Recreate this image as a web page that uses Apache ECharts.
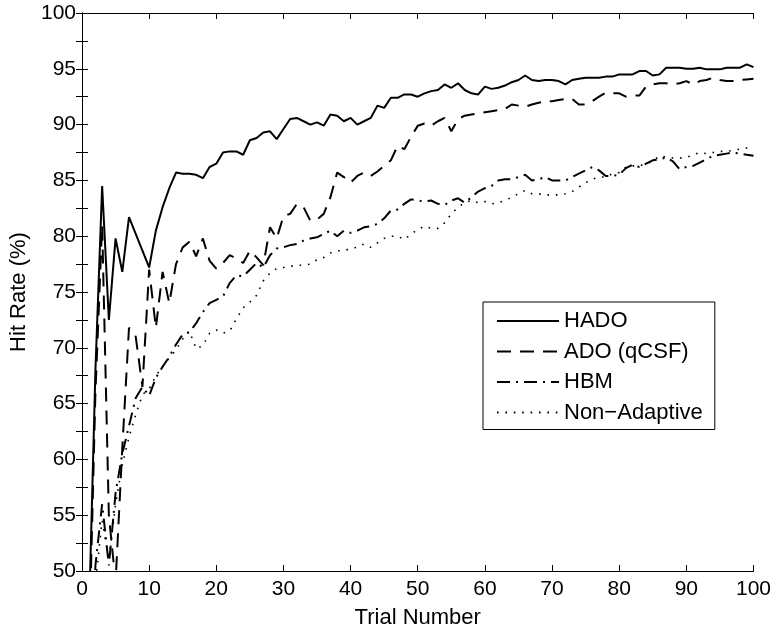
<!DOCTYPE html>
<html>
<head>
<meta charset="utf-8">
<script src="https://cdn.jsdelivr.net/npm/echarts@6/dist/echarts.min.js"></script>
<style>
html,body{margin:0;padding:0;background:#fff;}
#chart{width:774px;height:634px;}
</style>
</head>
<body>
<div id="chart"></div>
<script>
const seriesNames = ['HADO', 'ADO (qCSF)', 'HBM', 'Non\u2212Adaptive'];
const xTicks = [0, 10, 20, 30, 40, 50, 60, 70, 80, 90, 100];
const yTicks = [50, 55, 60, 65, 70, 75, 80, 85, 90, 95, 100];

const hado = [45, 68, 84.5, 72.5, 79.8, 76.8, 81.7, 80.2, 78.7, 77.2,
  80.5, 82.6, 84.3, 85.7, 85.6, 85.6, 85.5, 85.2, 86.2, 86.5,
  87.5, 87.6, 87.6, 87.3, 88.6, 88.8, 89.3, 89.4, 88.7, 89.6,
  90.5, 90.6, 90.3, 90.0, 90.2, 89.9, 90.9, 90.8, 90.3, 90.6,
  90.0, 90.3, 90.6, 91.7, 91.5, 92.4, 92.4, 92.7, 92.7, 92.5,
  92.8, 93.0, 93.1, 93.6, 93.3, 93.7, 93.1, 92.8, 92.7, 93.4,
  93.2, 93.3, 93.5, 93.8, 94.0, 94.4, 94.0, 93.9, 94.0, 94.0,
  93.9, 93.6, 94.0, 94.1, 94.2, 94.2, 94.2, 94.3, 94.3, 94.5,
  94.5, 94.5, 94.8, 94.8, 94.4, 94.5, 95.1, 95.1, 95.1, 95.0,
  95.0, 95.1, 94.95, 94.95, 94.95, 95.1, 95.1, 95.1, 95.4, 95.15];

const ado = [42, 66, 81, 55, 49, 61, 71.8, 71, 66.5, 77,
  71.8, 76.8, 74, 77.5, 79, 79.5, 78.2, 79.8, 77.8, 77.1,
  77.6, 78.3, 78, 77.6, 78.7, 78.1, 77.4, 80.8, 79.8, 81.8,
  82, 82.9, 82.6, 81.4, 81.5, 82, 83.5, 85.7, 85.3, 84.8,
  85.4, 85.7, 85.4, 85.8, 86.3, 86.8, 88.1, 87.8, 88.9, 89.9,
  90.1, 89.9, 90.3, 90.6, 89.4, 90.5, 90.8, 90.9, 91.0, 91.1,
  91.2, 91.3, 91.4, 91.8, 91.7, 91.6, 91.8, 91.95, 92.1, 92.1,
  92.2, 92.3, 92.3, 91.8, 91.8, 92.1, 92.5, 92.85, 92.8, 92.8,
  92.5, 92.6, 92.6, 93.4, 93.6, 93.7, 93.7, 93.6, 93.7, 93.9,
  93.6, 93.9, 94.0, 94.2, 94.0, 93.9, 93.9, 94.0, 94.05, 94.1];

const hbm = [38, 50.5, 56, 50.5, 57, 60.5, 63, 65.5, 66.5, 65.7,
  67.3, 68.3, 69.2, 70.3, 71.2, 71.4, 72.2, 73.2, 74.0, 74.3,
  74.6, 75.8, 76.5, 76.4, 77.0, 77.6, 77.2, 78.3, 78.9, 79.0,
  79.2, 79.3, 79.6, 79.8, 79.9, 80.2, 80.5, 80.0, 80.5, 80.3,
  80.5, 80.8, 80.9, 81.1, 81.6, 82.3, 82.4, 82.9, 83.3, 83.2,
  83.1, 83.2, 82.9, 82.8, 83.2, 83.4, 83.0, 83.5, 84.0, 84.3,
  84.5, 85.0, 85.1, 85.1, 85.3, 85.5, 85.0, 85.1, 85.3, 85.0,
  85.0, 85.0, 85.3, 85.6, 85.9, 86.2, 85.9, 85.4, 85.4, 85.5,
  86.1, 86.4, 86.2, 86.5, 86.8, 86.9, 87.05, 86.7, 86.0, 86.2,
  86.3, 86.6, 86.9, 87.2, 87.3, 87.4, 87.5, 87.4, 87.3, 87.2];

const nonAdaptive = [38, 49, 54.5, 51, 56, 59.5, 62, 64, 65.8, 66.3,
  67.5, 68.3, 69.1, 69.8, 70.8, 71.5, 69.9, 70.2, 71.3, 71.6,
  71.3, 71.5, 72.6, 73.6, 74.1, 74.7, 76.0, 76.7, 77.1, 77.2,
  77.3, 77.4, 77.4, 77.5, 77.9, 78.1, 78.5, 78.7, 78.7, 78.9,
  79.0, 79.3, 79.0, 79.4, 79.8, 80.0, 80.0, 79.7, 80.2, 80.6,
  80.9, 80.7, 80.7, 81.2, 82.0, 82.6, 83.0, 83.2, 83.0, 83.1,
  82.9, 83.0, 83.2, 83.5, 83.8, 84.1, 83.8, 83.8, 83.7, 83.7,
  83.7, 83.8, 84.0, 84.4, 84.8, 85.1, 85.3, 85.3, 85.6, 85.7,
  86.2, 86.3, 86.3, 86.5, 86.7, 87.2, 87.1, 87.0, 87.0, 87.05,
  87.3, 87.5, 87.4, 87.5, 87.6, 87.6, 87.7, 87.8, 87.9, 88.0];

const trials = hado.map((_, i) => i + 1);
const pair = arr => arr.map((v, i) => [trials[i], v]);

const FONT = '"Liberation Sans", Arial, Helvetica, sans-serif';
const FS_TICK = 21;
const FS_NAME = 22;

const chart = echarts.init(document.getElementById('chart'), null, {renderer: 'canvas'});

const baseAxis = {
  axisLine: {show: true, lineStyle: {color: '#000', width: 1}},
  axisTick: {show: true, inside: true, length: 6, lineStyle: {color: '#000', width: 1}},
  splitLine: {show: false}
};

const lineStyles = [
  {color: '#000', width: 2, type: 'solid'},
  {color: '#000', width: 2, type: [14, 9]},
  {color: '#000', width: 2, type: [13, 6, 2, 6]},
  {color: '#000', width: 1.6, type: [1.6, 6.8]}
];
const datasets = [hado, ado, hbm, nonAdaptive];

chart.setOption({
  animation: false,
  backgroundColor: '#fff',
  textStyle: {fontFamily: FONT, color: '#000'},
  grid: {left: 82, right: 17, top: 13, bottom: 60, containLabel: false},
  legend: {
    orient: 'vertical',
    left: 483,
    top: 302,
    padding: [8, 12, 6, 13],
    itemWidth: 62,
    itemHeight: 14,
    itemGap: 8.5,
    borderColor: '#000',
    borderWidth: 1,
    backgroundColor: '#fff',
    selectedMode: false,
    itemStyle: {opacity: 0, color: 'rgba(0,0,0,0)', borderWidth: 0},
    textStyle: {fontSize: FS_NAME, color: '#000', fontFamily: FONT},
    data: seriesNames
  },
  xAxis: [
    Object.assign({}, baseAxis, {
      type: 'value', min: xTicks[0], max: xTicks[xTicks.length - 1], interval: 10,
      name: 'Trial Number', nameLocation: 'middle', nameGap: 36,
      nameTextStyle: {fontSize: FS_NAME, color: '#000', fontFamily: FONT},
      axisLabel: {fontSize: FS_TICK, color: '#000', margin: 8, fontFamily: FONT}
    }),
    Object.assign({}, baseAxis, {
      type: 'value', position: 'top', min: xTicks[0], max: xTicks[xTicks.length - 1], interval: 10,
      axisLabel: {show: false}
    })
  ],
  yAxis: [
    Object.assign({}, baseAxis, {
      type: 'value', min: yTicks[0], max: yTicks[yTicks.length - 1], interval: 2.5,
      name: 'Hit Rate (%)', nameLocation: 'middle', nameGap: 39, nameRotate: 90,
      nameTextStyle: {fontSize: FS_NAME, color: '#000', fontFamily: FONT},
      axisLabel: {
        fontSize: FS_TICK, color: '#000', margin: 6, fontFamily: FONT,
        formatter: v => (yTicks.indexOf(v) >= 0 ? String(v) : '')
      }
    }),
    Object.assign({}, baseAxis, {
      type: 'value', position: 'right', min: yTicks[0], max: yTicks[yTicks.length - 1], interval: 2.5,
      axisLabel: {show: false}
    })
  ],
  series: seriesNames.map((name, k) => ({
    name: name,
    type: 'line',
    xAxisIndex: 0,
    yAxisIndex: 0,
    data: pair(datasets[k]),
    symbol: 'none',
    showSymbol: false,
    clip: true,
    lineStyle: lineStyles[k],
    itemStyle: {color: '#000'},
    z: 10 - k
  }))
});
</script>
</body>
</html>
